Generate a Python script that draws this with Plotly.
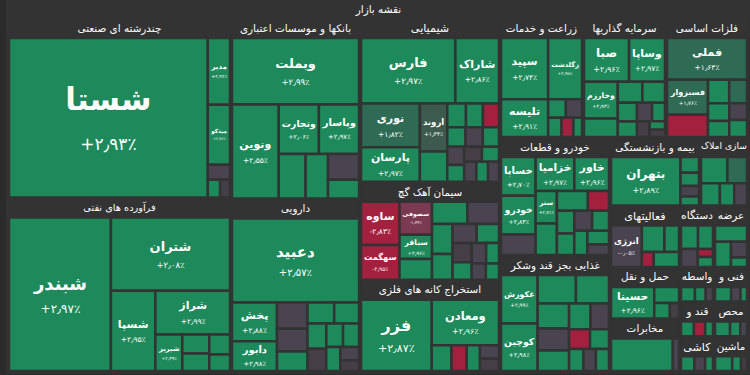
import plotly.graph_objects as go

# ---------------- data ----------------
root_label = "نقشه بازار"

chandreshte_labels = ["شستا", "مدیر", "میدکو", "", "", ""]
chandreshte_values = [36308, 1696, 1526, 384, 249, 199]
chandreshte_changes = [2.93, 2.92, 2.96, 0.0, 2.9, -0.4]

faravarde_labels = ["شبندر", "شتران", "شسپا", "شراز", "شبریز", "", "", "", ""]
faravarde_values = [17998, 10045, 4095, 3746, 1135, 590, 545, 477, 396]
faravarde_changes = [2.97, 2.08, 2.95, 2.99, 2.39, 2.9, 2.9, 2.9, 2.8]

bank_labels = ["وبملت", "ونوین", "وتجارت", "وپاسار", "", "", "", ""]
bank_values = [9735, 5058, 2291, 2291, 1374, 1145, 916, 669]
bank_changes = [2.99, 2.55, 2.06, 2.97, 2.9, 2.9, 0.0, 2.9]

darou_labels = ["دعبید", "پخش", "دابور", "", "", "", "", "", "", "", "", "", "", "", ""]
darou_values = [12374, 2014, 1554, 921, 806, 691, 645, 599, 553, 483, 460, 437, 391, 288, 230]
darou_changes = [2.57, 2.88, 2.98, 0.0, 0.0, 2.9, 2.9, 2.9, 2.9, -0.3, 2.9, 2.9, 2.9, 0.0, -0.5]

shimi_labels = ["فارس", "شاراک", "نوری", "پارسان", "اروند", "",
                "", "", "", "", "", "", "", "", "", "", "", "", ""]
shimi_values = [7211, 3334, 2999, 2356, 1528, 964,
                517, 468, 443, 419, 393, 369, 356, 332, 308, 295, 283, 271, 253]
shimi_changes = [2.97, 2.86, 1.82, 2.97, 1.34, 2.9,
                 2.9, 2.9, -2.8, 2.9, 0.0, 2.9, 0.0, 2.9, -0.5, 2.9, 0.0, 2.9, 0.0]

siman_labels = ["ساوه", "سهگمت", "سصوفی", "سباقر", "",
                "", "", "", "", "", "", "", "", "", "", "", ""]
siman_values = [2148, 1719, 1375, 1013, 869,
                1018, 904, 792, 678, 588, 543, 475, 429, 384, 340, 294, 271]
siman_changes = [-2.83, -2.95, -1.34, 2.96, 2.9,
                 2.9, 0.0, 2.9, 2.9, 0.0, 2.9, -0.5, 2.9, 0.0, 2.9, 0.0, 2.9]

estekhraj_labels = ["فزر", "ومعادن", "", "", "", "", ""]
estekhraj_values = [6600, 4017, 665, 512, 448, 333, 305]
estekhraj_changes = [2.87, 2.96, 2.9, -2.8, 2.9, 0.0, -0.5]

zeraat_labels = ["سپید", "زگلدشت", "تلیسه", "", "", "", "", ""]
zeraat_values = [3582, 2570, 2217, 408, 371, 321, 284, 206]
zeraat_changes = [2.74, 2.98, 2.91, 2.9, 0.0, 2.9, -2.8, 2.9]

sarmaye_labels = ["صبا", "وساپا", "وخارزم", "", "", "", "", "", "", "", "", "", ""]
sarmaye_values = [2447, 1947, 1550, 775, 643, 593, 445, 371, 346, 297, 247, 161, 138]
sarmaye_changes = [2.96, 2.97, 2.93, 2.9, 2.9, 2.9, 2.9, 2.9, 0.0, 2.9, -0.5, 2.9, -0.6]

felezat_labels = ["فملی", "فسبزوار", "", "", "", "", "", "", ""]
felezat_values = [4148, 1781, 1138, 618, 519, 470, 421, 371, 373]
felezat_changes = [1.63, 1.76, -2.9, 2.9, 1.7, 2.9, 2.9, 0.0, 2.9]

khodro_labels = ["خساپا", "خودرو", "", "خزامیا", "خاور", "ستر",
                 "", "", "", "", "", "", "", "", "", ""]
khodro_values = [1663, 1663, 873, 1626, 1455, 856,
                 831, 758, 514, 489, 465, 440, 416, 391, 367, 284]
khodro_changes = [2.70, 2.83, 0.0, 2.97, 2.96, 2.71,
                  2.9, 2.9, -2.8, 2.9, 2.9, 0.0, 2.9, 2.9, 2.9, 0.0]

ghazaei_labels = ["غکورش", "کوچین", "", "", "", "", "", "", "", "", "", "", "", ""]
ghazaei_values = [2208, 2163, 1349, 1165, 981, 858, 797, 687, 589, 515, 466, 392, 343, 356]
ghazaei_changes = [2.99, 2.98, 2.9, 2.9, 2.9, 0.0, 2.9, 2.9, 0.0, -2.8, 2.9, 2.9, 0.0, 2.9]

bime_labels = ["بتهران", "", "", "", ""]
bime_values = [4910, 425, 354, 283, 238]
bime_changes = [2.89, 2.9, 2.9, 0.0, 2.9]

amlak_labels = ["", "", "", "", ""]
amlak_values = [1033, 767, 620, 472, 419]
amlak_changes = [2.9, 1.7, 2.9, 2.9, 0.0]

faaliat_labels = ["انرژی", "", "", "", ""]
faaliat_values = [1973, 927, 598, 269, 574]
faaliat_changes = [-0.05, 2.9, 2.9, -2.8, 2.9]

dastgah_labels = ["", "", "", "", ""]
dastgah_values = [639, 559, 479, 192, 240]
dastgah_changes = [2.9, 2.9, 0.0, -2.8, 2.9]

arze_labels = ["", "", "", ""]
arze_values = [830, 639, 399, 240]
arze_changes = [2.9, 2.9, 0.0, 2.9]

haml_labels = ["حسینا", "", "", ""]
haml_values = [2316, 681, 406, 237]
haml_changes = [2.96, 2.9, 2.9, -0.5]

mokhaberat_labels = ["", ""]
mokhaberat_values = [3373, 337]
mokhaberat_changes = [2.9, 0.0]

vaseteh_labels = ["", "", ""]
vaseteh_values = [520, 400, 270]
vaseteh_changes = [2.9, 2.9, 0.0]

fani_labels = ["", "", ""]
fani_values = [600, 350, 240]
fani_changes = [2.9, 0.0, 2.9]

ghand_labels = ["", "", ""]
ghand_values = [480, 420, 290]
ghand_changes = [2.9, -2.8, 2.9]

mahsul_labels = ["", "", ""]
mahsul_values = [560, 380, 250]
mahsul_changes = [2.9, 2.9, 0.0]

kashi_labels = ["", "", ""]
kashi_values = [500, 400, 290]
kashi_changes = [2.9, 0.0, 2.9]

mashin_labels = ["", "", ""]
mashin_values = [640, 330, 220]
mashin_changes = [2.9, 2.9, -0.5]

sectors = [
    ("چندرشته ای صنعتی", chandreshte_labels, chandreshte_values, chandreshte_changes),
    ("فرآورده های نفتی", faravarde_labels, faravarde_values, faravarde_changes),
    ("بانکها و موسسات اعتباری", bank_labels, bank_values, bank_changes),
    ("دارویی", darou_labels, darou_values, darou_changes),
    ("شیمیایی", shimi_labels, shimi_values, shimi_changes),
    ("سیمان آهک گچ", siman_labels, siman_values, siman_changes),
    ("استخراج کانه های فلزی", estekhraj_labels, estekhraj_values, estekhraj_changes),
    ("زراعت و خدمات", zeraat_labels, zeraat_values, zeraat_changes),
    ("سرمایه گذاریها", sarmaye_labels, sarmaye_values, sarmaye_changes),
    ("فلزات اساسی", felezat_labels, felezat_values, felezat_changes),
    ("خودرو و قطعات", khodro_labels, khodro_values, khodro_changes),
    ("غذایی بجز قند وشکر", ghazaei_labels, ghazaei_values, ghazaei_changes),
    ("بیمه و بازنشستگی", bime_labels, bime_values, bime_changes),
    ("سازی املاک", amlak_labels, amlak_values, amlak_changes),
    ("فعالیتهای", faaliat_labels, faaliat_values, faaliat_changes),
    ("دستگاه", dastgah_labels, dastgah_values, dastgah_changes),
    ("عرضه", arze_labels, arze_values, arze_changes),
    ("حمل و نقل", haml_labels, haml_values, haml_changes),
    ("مخابرات", mokhaberat_labels, mokhaberat_values, mokhaberat_changes),
    ("واسطه", vaseteh_labels, vaseteh_values, vaseteh_changes),
    ("فنی و", fani_labels, fani_values, fani_changes),
    ("قند و", ghand_labels, ghand_values, ghand_changes),
    ("محص", mahsul_labels, mahsul_values, mahsul_changes),
    ("کاشی", kashi_labels, kashi_values, kashi_changes),
    ("ماشین", mashin_labels, mashin_values, mashin_changes),
]

# ---------------- style ----------------
PAGE_BG = "#2b2b2b"
BG = "#333333"
FONT = "DejaVu Sans, sans-serif"
HEADER_SIZE = 12

text_sizes = {
    "شستا": (31, 17), "شبندر": (18, 12), "فزر": (16, 11), "دعبید": (15, 10),
    "فارس": (13, 8.5), "شتران": (13, 8.5), "وبملت": (13, 8.5), "ومعادن": (11.5, 8),
    "صبا": (12, 8), "بتهران": (12, 8),
}
DEFAULT_SIZE = (11, 7.5)


def change_color(ch):
    if ch >= 2.0:
        return "#1e8a5c"
    if ch >= 1.5:
        return "#2f6b54"
    if ch >= 1.0:
        return "#3d5a4e"
    if ch > 0.2:
        return "#3e4a44"
    if ch > -0.2:
        return "#4a4450"
    if ch > -1.0:
        return "#453e46"
    if ch > -2.0:
        return "#7a3a52"
    return "#a3213f"


FA = str.maketrans("0123456789.", "۰۱۲۳۴۵۶۷۸۹٫")


def fa_pct(ch):
    return "\u200e" + f"{ch:+.2f}".translate(FA) + "٪"


ids, labels, parents, values, colors, texts, sizes = [], [], [], [], [], [], []
ids.append("root"); labels.append(root_label); parents.append(""); values.append(0)
colors.append(BG); texts.append(f"<b>{root_label}</b>"); sizes.append(HEADER_SIZE)

for si, (name, labs, vals, chs) in enumerate(sectors):
    sid = f"s{si}"
    ids.append(sid); labels.append(name); parents.append("root"); values.append(0)
    colors.append(BG); texts.append(f"<b>{name}</b>"); sizes.append(HEADER_SIZE)
    for j, (lab, v, ch) in enumerate(zip(labs, vals, chs)):
        ids.append(f"{sid}_{j}")
        labels.append(lab)
        parents.append(sid)
        values.append(v)
        colors.append(change_color(ch))
        if lab:
            ls, ps = text_sizes.get(lab, DEFAULT_SIZE)
            texts.append(f"<b>{lab}</b><br><span style='font-size:{ps}px'>{fa_pct(ch)}</span>")
            sizes.append(ls)
        else:
            texts.append("")
            sizes.append(DEFAULT_SIZE[0])

fig = go.Figure(go.Treemap(
    ids=ids, labels=labels, parents=parents, values=values,
    branchvalues="remainder", sort=False,
    text=texts, texttemplate="%{text}", textposition="middle center",
    textfont=dict(family=FONT, size=sizes, color="white"),
    marker=dict(colors=colors, line=dict(color=BG, width=2.5),
                pad=dict(t=19, l=1, r=1, b=1), depthfade=False),
    tiling=dict(packing="squarify", squarifyratio=1, pad=0),
    pathbar=dict(visible=False),
    hoverinfo="label+value",
))

fig.update_layout(
    width=750, height=375,
    margin=dict(l=7, r=1, t=0, b=2),
    paper_bgcolor=PAGE_BG,
    font=dict(family=FONT, color="white"),
)

fig.write_html("out.html")
